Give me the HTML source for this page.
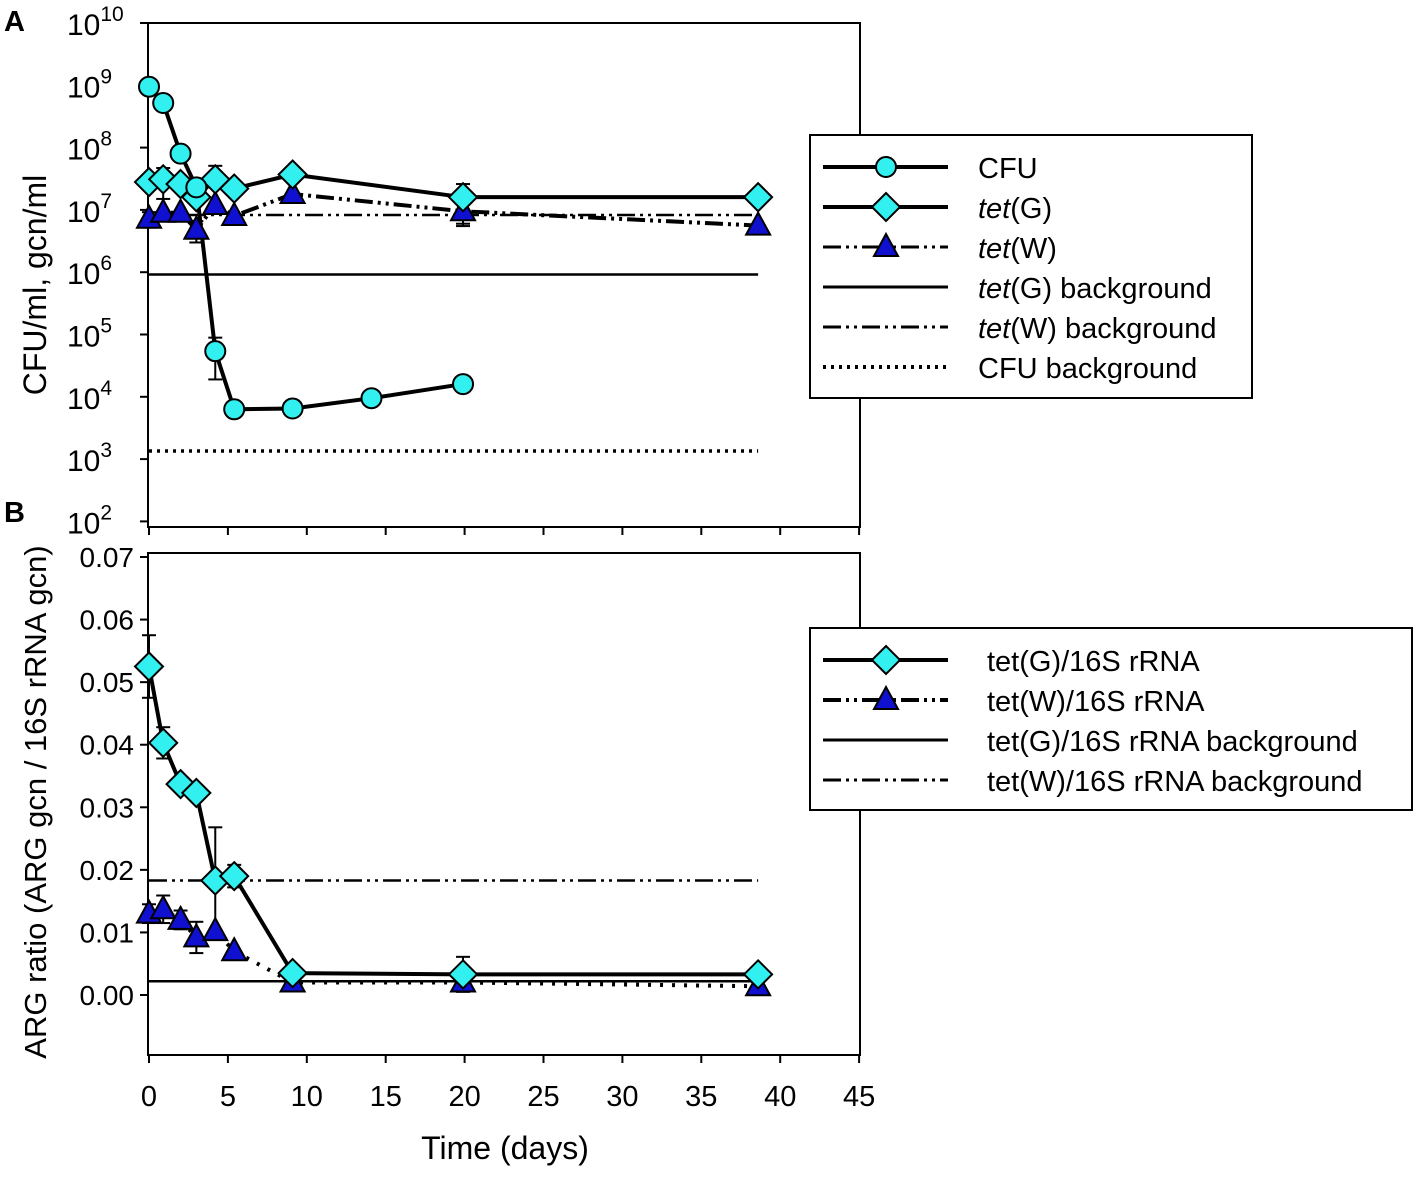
<!DOCTYPE html>
<html><head><meta charset="utf-8"><style>
html,body{margin:0;padding:0;background:#fff}
svg{display:block;font-family:"Liberation Sans",Arial,sans-serif}
</style></head><body>
<svg id="c" width="1418" height="1178" viewBox="0 0 1418 1178"></svg>
<script>
// ---- data ----
const timesCFU=[0,0.9,2,3,4.2,5.4,9.1,14.1,19.9];
const cfuVals=[9.5e8,5.2e8,8e7,2.3e7,5.4e4,6.3e3,6.5e3,9.5e3,1.6e4];
const timesA=[0,0.9,2,3,4.2,5.4,9.1,19.9,38.6];
const tetGVals=[2.8e7,3.1e7,2.6e7,1.6e7,3.1e7,2.2e7,3.7e7,1.6e7,1.6e7];
const tetWVals=[7.2e6,9e6,9e6,4.8e6,1.2e7,8e6,1.8e7,9.5e6,5.6e6];
const tetGErr=[0,1.6e7,0,0,2e7,0,0,1e7,0];
const tetWErr=[2e6,0,0,1.8e6,0,0,0,4e6,0];
const bgTetG=9.2e5, bgTetW=8.3e6, bgCFU=1.35e3;
const timesB=[0,0.9,2,3,4.2,5.4,9.1,19.9,38.6];
const ratioG=[0.0525,0.0403,0.0337,0.0323,0.0183,0.019,0.0035,0.0033,0.0033];
const ratioW=[0.0130,0.0137,0.0120,0.0092,0.0102,0.0070,0.0020,0.0020,0.0014];
const ratioGErr=[0.005,0.0025,0,0,0.0085,0.0018,0,0.0028,0];
const ratioWErr=[0.0015,0.0022,0.0015,0.0025,0,0,0,0,0];
const bgRatioG=0.0022, bgRatioW=0.0183;
const xTicks=[0,5,10,15,20,25,30,35,40,45];
const yTicksB=[0,0.01,0.02,0.03,0.04,0.05,0.06,0.07];
const expTicks=[2,3,4,5,6,7,8,9,10];

const NS="http://www.w3.org/2000/svg";
const svg=document.getElementById('c');
function mk(t,a,p){const e=document.createElementNS(NS,t);for(const k in a)e.setAttribute(k,a[k]);(p||svg).appendChild(e);return e;}
const X=t=>149+t*15.78;
const YA=v=>23+(10-Math.log10(v))*62.3;
const YB=v=>995-v*6257;

let e=mk('rect',{x:148,y:23,width:712,height:504,fill:'none',stroke:'#000','stroke-width':2});

e=mk('rect',{x:148,y:553,width:712,height:502,fill:'none',stroke:'#000','stroke-width':2});


expTicks.forEach(p=>{const y=YA(Math.pow(10,p));
 mk('line',{x1:140,x2:148,y1:y,y2:y,stroke:'#000','stroke-width':2});
 const t=mk('text',{x:67,y:y+12,'font-size':30});
 
 t.textContent='10';const s=mk('tspan',{dy:-14,'font-size':21},t);s.textContent=p;});
yTicksB.forEach(v=>{const y=YB(v);
 mk('line',{x1:140,x2:148,y1:y,y2:y,stroke:'#000','stroke-width':2});
 const t=mk('text',{x:134,y:y+10,'font-size':28,'text-anchor':'end'});
 
 t.textContent=v.toFixed(2);});
xTicks.forEach(v=>{const x=X(v);
 mk('line',{x1:x,x2:x,y1:1055,y2:1063,stroke:'#000','stroke-width':2});
 mk('line',{x1:x,x2:x,y1:527,y2:535,stroke:'#000','stroke-width':2});
 const t=mk('text',{x:x,y:1106,'font-size':29,'text-anchor':'middle'});
 
 t.textContent=v;});

function txt(s,a,name){const t=mk('text',a);t.textContent=s;return t;}
txt('A',{x:4,y:31,'font-size':29,'font-weight':'bold'},'panel-a-label');
txt('B',{x:4,y:522,'font-size':29,'font-weight':'bold'},'panel-b-label');
txt('CFU/ml, gcn/ml',{x:0,y:0,'font-size':32,'text-anchor':'middle',transform:'translate(46,285) rotate(-90)'},'y-axis-title-a');
txt('ARG ratio (ARG gcn / 16S rRNA gcn)',{x:0,y:0,'font-size':31,'text-anchor':'middle',transform:'translate(46,802) rotate(-90)'},'y-axis-title-b');
txt('Time (days)',{x:505,y:1159,'font-size':32,'text-anchor':'middle'},'x-axis-title');

const DDOT='18,5,3,5,3,5';
function hline(y,x1,x2,dash,name,w){const l=mk('line',{x1:x1,x2:x2,y1:y,y2:y,stroke:'#000','stroke-width':w||3});if(dash)l.setAttribute('stroke-dasharray',dash);return l;}
function series(xs,vs,Y,dash,name){const pts=xs.map((t,i)=>X(t)+','+Y(vs[i])).join(' ');
 const p=mk('polyline',{points:pts,fill:'none',stroke:'#000','stroke-width':4});if(dash)p.setAttribute('stroke-dasharray',dash);
 }
function errs(xs,vs,es,Y,name){es.forEach((d,i)=>{if(!d)return;const x=X(xs[i]);
 const g=mk('g',{stroke:'#000','stroke-width':2});
 const y1=Y(vs[i]+d),y2=Y(Math.max(vs[i]-d,1e-9));
 mk('line',{x1:x,x2:x,y1:y1,y2:y2},g);mk('line',{x1:x-7,x2:x+7,y1:y1,y2:y1},g);mk('line',{x1:x-7,x2:x+7,y1:y2,y2:y2},g);});}
function marker(type,x,y,name){let m;
 if(type==='c')m=mk('circle',{cx:x,cy:y,r:10,fill:'#33f0f0',stroke:'#000','stroke-width':2});
 else if(type==='d')m=mk('polygon',{points:`${x},${y-14} ${x+14},${y} ${x},${y+14} ${x-14},${y}`,fill:'#33f0f0',stroke:'#000','stroke-width':2});
 else m=mk('polygon',{points:`${x},${y-13} ${x+12},${y+9} ${x-12},${y+9}`,fill:'#1010d0',stroke:'#000','stroke-width':2});
 }

hline(YA(bgTetG),X(0),X(38.6),null,'tetg-background-line',2.5);
hline(YA(bgTetW),X(0),X(38.6),DDOT,'tetw-background-line',2.5);
hline(YA(bgCFU),X(0),X(38.6),'3,5','cfu-background-line',3.5);
errs(timesA,tetGVals,tetGErr,YA,'tetg-error-bar');
errs(timesA,tetWVals,tetWErr,YA,'tetw-error-bar');
errs([4.2],[5.4e4],[3.5e4],YA,'cfu-error-bar');
series(timesA,tetWVals,YA,DDOT,'tetw-line');
series(timesA,tetGVals,YA,null,'tetg-line');
series(timesCFU,cfuVals,YA,null,'cfu-line');
timesA.forEach((t,i)=>marker('t',X(t),YA(tetWVals[i]),'tetw-point'));
timesA.forEach((t,i)=>marker('d',X(t),YA(tetGVals[i]),'tetg-point'));
timesCFU.forEach((t,i)=>marker('c',X(t),YA(cfuVals[i]),'cfu-point'));

hline(YB(bgRatioG),X(0),X(38.6),null,'tetg-ratio-background-line',2.5);
hline(YB(bgRatioW),X(0),X(38.6),DDOT,'tetw-ratio-background-line',2.5);
errs(timesB,ratioG,ratioGErr,YB,'tetg-ratio-error-bar');
errs(timesB,ratioW,ratioWErr,YB,'tetw-ratio-error-bar');
series(timesB,ratioW,YB,'3,9','tetw-ratio-line');
series(timesB,ratioG,YB,null,'tetg-ratio-line');
timesB.forEach((t,i)=>marker('t',X(t),YB(ratioW[i]),'tetw-ratio-point'));
timesB.forEach((t,i)=>marker('d',X(t),YB(ratioG[i]),'tetg-ratio-point'));

function legend(x,y,w,h,items,name){const g=mk('g',{});
 mk('rect',{x:x,y:y,width:w,height:h,fill:'#fff',stroke:'#000','stroke-width':2},g);
 items.forEach((it,i)=>{const yy=y+32+i*40;
  const l=mk('line',{x1:x+13,x2:x+138,y1:yy,y2:yy,stroke:'#000','stroke-width':it.w||4},g);if(it.dash)l.setAttribute('stroke-dasharray',it.dash);
  const t=mk('text',{x:x+it.tx,y:yy+11,'font-size':29},g);
  
  if(it.it){const s=mk('tspan',{'font-style':'italic'},t);s.textContent=it.it;}
  t.appendChild(document.createTextNode(it.label));
  if(it.m)marker(it.m,x+76,yy,'legend-marker');});}
legend(810,135,442,263,[
 {label:'CFU',m:'c',tx:168},{it:'tet',label:'(G)',m:'d',tx:168},{it:'tet',label:'(W)',m:'t',dash:DDOT,w:3,tx:168},
 {it:'tet',label:'(G) background',w:3,tx:168},{it:'tet',label:'(W) background',dash:DDOT,w:3,tx:168},{label:'CFU background',dash:'3,5',w:4,tx:168}],'legend-a');
legend(810,628,602,182,[
 {label:'tet(G)/16S rRNA',m:'d',tx:177},{label:'tet(W)/16S rRNA',m:'t',dash:DDOT,tx:177},
 {label:'tet(G)/16S rRNA background',w:3,tx:177},{label:'tet(W)/16S rRNA background',dash:DDOT,w:3,tx:177}],'legend-b');
</script>
</body></html>
